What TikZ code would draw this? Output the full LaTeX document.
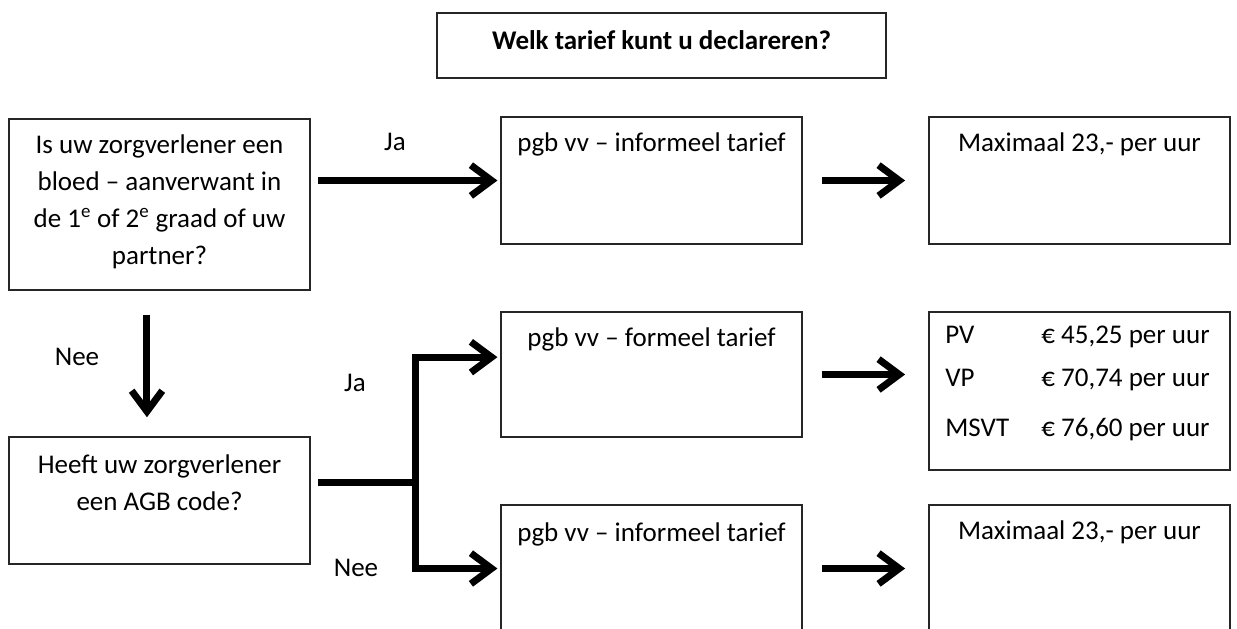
\documentclass[tikz,border=0pt]{standalone}
\usepackage{fontspec}
\setmainfont{Carlito}
\usetikzlibrary{positioning,arrows.meta}
\newcommand\grootfont{\fontsize{20.25pt}{27.75pt}\selectfont}

\begin{document}
\begin{tikzpicture}[
  x=0.75pt, y=-0.75pt,
  font=\grootfont,
  doos/.style={draw=black!85, line width=1.1pt, minimum width=226pt, minimum height=95.25pt, inner sep=0pt},
  tekst/.style={anchor=north, yshift=-12.25pt, align=center, inner sep=0pt},
  pijl/.style={line width=5.25pt, -{Straight Barb[length=15.5pt, width=23pt]}},
  lbl/.style={inner sep=0pt},
]
\useasboundingbox (0,0) rectangle (1237,628);
\fill[white] (0,0) rectangle (1237,628);
\clip (0,0) rectangle (1237,628);

\node[doos, minimum width=336.75pt, minimum height=48.75pt, label={[tekst, yshift=-1.25pt, font=\grootfont\bfseries]north:Welk tarief kunt u declareren?}] (titel) at (661.5,45.5) {};
\node[doos, minimum height=128.25pt, label={[tekst]north:{Is uw zorgverlener een\\bloed -- aanverwant in\\de 1\textsuperscript{e} of 2\textsuperscript{e} graad of uw\\partner?}}] (q1) at (159.5,204.5) {};
\node[doos, label={[tekst, yshift=-1.5pt]north:{Heeft uw zorgverlener\\een AGB code?}}] (q2) at (159.5,500.5) {};
\node[doos, label={[tekst]north:{pgb vv -- informeel tarief}}] (j1) at (651.5,180.5) {};
\node[doos, label={[tekst]north:{Maximaal 23,- per uur}}] (r1) at (1079.5,180.5) {};
\node[doos, minimum height=93.75pt, label={[tekst]north:{pgb vv -- formeel tarief}}] (f) at (651.5,374.5) {};
\node[doos, minimum height=118.5pt, label={[tekst, anchor=north west, xshift=12.75pt, yshift=1.25pt, align=left]north west:{\makebox[72pt][l]{PV}€ 45,25 per uur\\[4.5pt]\makebox[72pt][l]{VP}€ 70,74 per uur\\[9.75pt]\makebox[72pt][l]{MSVT}€ 76,60 per uur}}] (r2) at (1079.5,391) {};
\node[doos, label={[tekst, yshift=-1.5pt]north:{pgb vv -- informeel tarief}}] (i2) at (651.5,568.5) {};
\node[doos, label={[tekst]north:{Maximaal 23,- per uur}}] (r3) at (1079.5,568.5) {};

\node[lbl] (ja1) at (395,142) {Ja};
\node[lbl] (nee1) at (77,357) {Nee};
\node[lbl] (ja2) at (355,383) {Ja};
\node[lbl] (nee2) at (356,568) {Nee};

\coordinate (splits) at (415,482);

\draw[pijl, shorten <=5.25pt, shorten >=2pt] (q1.east |- j1.west) -- (j1.west);
\draw[pijl, shorten <=14.25pt, shorten >=17.25pt] (j1) -- (r1);
\draw[pijl, shorten <=18pt, shorten >=14.25pt] ([xshift=-9.4pt]q1.south) -- ([xshift=-9.4pt]q2.north);
\draw[pijl, shorten <=5.25pt, shorten >=2pt] (q2.east |- splits) -- (splits) |- ([yshift=13pt]f.west);
\draw[pijl, shorten >=2pt] (splits) |- (i2.west);
\draw[pijl, shorten <=14.25pt, shorten >=17.25pt] (f.east) -- (f.east -| r2.west);
\draw[pijl, shorten <=14.25pt, shorten >=17.25pt] (i2) -- (r3);
\end{tikzpicture}
\end{document}
